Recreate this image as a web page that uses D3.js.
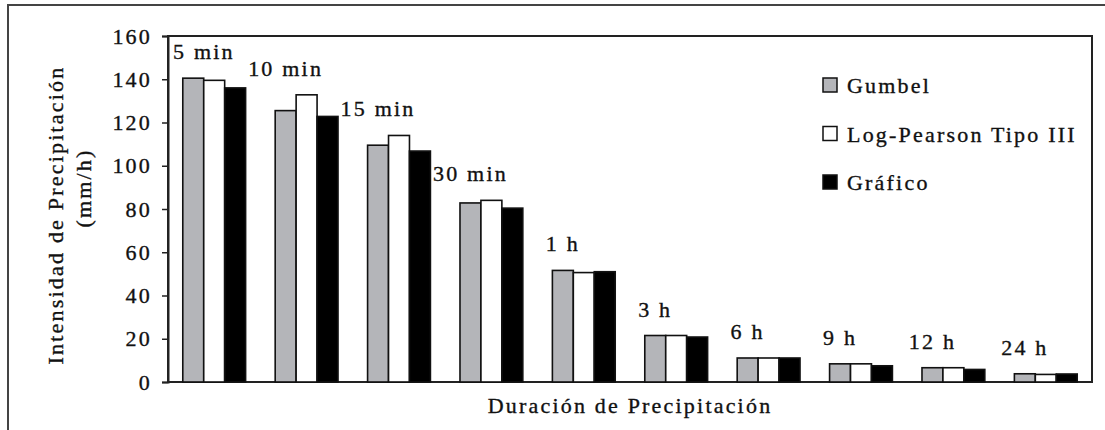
<!DOCTYPE html>
<html>
<head>
<meta charset="utf-8">
<script src="https://cdn.jsdelivr.net/npm/d3@7"></script>
<style>
  html, body { margin: 0; padding: 0; background: #fff; }
  svg { display: block; }
</style>
</head>
<body>
<svg id="chart" width="1105" height="430"></svg>
<script>
// ---- data ----
const categories = ["5 min", "10 min", "15 min", "30 min", "1 h", "3 h", "6 h", "9 h", "12 h", "24 h"];
const seriesNames = ["Gumbel", "Log-Pearson Tipo III", "Gráfico"];
const gumbel      = [140.5, 125.5, 109.5, 82.8, 51.6, 21.5, 11.1, 8.4, 6.6, 3.8];
const logPearson  = [139.5, 132.8, 114.0, 84.0, 50.6, 21.5, 11.1, 8.4, 6.6, 3.5];
const grafico     = [136.0, 122.8, 106.8, 80.4, 51.0, 20.8, 11.1, 7.5, 5.8, 3.7];
const yTicks = [0, 20, 40, 60, 80, 100, 120, 140, 160];
const yTitle = ["Intensidad de Precipitación", "(mm/h)"];
const xTitle = "Duración de Precipitación";

// ---- layout ----
const W = 1105, H = 430;
const FONT = "Liberation Serif";
const FS = 22, LS = 2.2;
const plot = { left: 168, top: 36, right: 1092, bottom: 382 };
const colors = { "Gumbel": "#b4b5b9", "Log-Pearson Tipo III": "#ffffff", "Gráfico": "#000000" };
const seriesValues = { "Gumbel": gumbel, "Log-Pearson Tipo III": logPearson, "Gráfico": grafico };

const svg = d3.select("#chart");

function styleText(sel) {
  return sel.attr("font-family", FONT).attr("font-size", FS)
    .attr("letter-spacing", LS).attr("fill", "#111")
    .attr("stroke", "#111").attr("stroke-width", 0.35);
}

// outer frame (extends past the right and bottom edges)
svg.append("rect")
  .attr("x", 8).attr("y", 5).attr("width", W + 20).attr("height", H + 20)
  .attr("fill", "#fff").attr("stroke", "#444").attr("stroke-width", 2);

const x0 = d3.scaleBand().domain(categories).range([plot.left, plot.right])
  .paddingInner(0.32).paddingOuter(0.16);
const x1 = d3.scaleBand().domain(seriesNames).range([0, x0.bandwidth()]);
const y = d3.scaleLinear().domain([0, 160]).range([plot.bottom, plot.top]);

// plot frame
svg.append("rect")
  .attr("x", plot.left).attr("y", plot.top)
  .attr("width", plot.right - plot.left).attr("height", plot.bottom - plot.top)
  .attr("fill", "none").attr("stroke", "#222").attr("stroke-width", 2);

// y axis
const yAxis = d3.axisLeft(y).tickValues(yTicks).tickSize(6).tickPadding(10).tickFormat(d3.format("d"));
const ga = svg.append("g").attr("transform", `translate(${plot.left},0)`).call(yAxis);
ga.attr("font-family", FONT).attr("font-size", FS);
ga.select(".domain").attr("stroke", "#222").attr("stroke-width", 2);
ga.selectAll(".tick line").attr("stroke", "#222").attr("stroke-width", 1.5);
styleText(ga.selectAll(".tick text"));

// bars
const rows = categories.map((c, i) => ({ cat: c, vals: seriesNames.map(s => ({ s, v: seriesValues[s][i] })) }));
const groups = svg.append("g").selectAll("g").data(rows).join("g")
  .attr("transform", d => `translate(${x0(d.cat)},0)`);
groups.selectAll("rect").data(d => d.vals).join("rect")
  .attr("x", d => x1(d.s))
  .attr("y", d => y(d.v))
  .attr("width", x1.bandwidth())
  .attr("height", d => y(0) - y(d.v))
  .attr("fill", d => colors[d.s])
  .attr("stroke", "#111").attr("stroke-width", 1.6);

// category labels above groups, centred over the first bar
const gap = 19;
styleText(svg.append("g").selectAll("text").data(rows).join("text"))
  .attr("text-anchor", "middle")
  .text(d => d.cat)
  .attr("y", d => y(d3.max(d.vals, v => v.v)) - gap)
  .attr("x", function(d) {
    const cx = x0(d.cat) + x1(seriesNames[0]) + x1.bandwidth() / 2;
    const half = this.getComputedTextLength() / 2;
    return Math.max(cx, plot.left + 5 + half);
  });

// y title
const ty = (plot.top + plot.bottom) / 2;
styleText(svg.append("text")).attr("text-anchor", "middle")
  .attr("transform", `translate(63,${ty + 6}) rotate(-90)`).text(yTitle[0]);
styleText(svg.append("text")).attr("text-anchor", "middle")
  .attr("transform", `translate(91,${ty - 21}) rotate(-90)`).text(yTitle[1]);

// x title
styleText(svg.append("text")).attr("text-anchor", "middle")
  .attr("x", (plot.left + plot.right) / 2).attr("y", 413).text(xTitle);

// legend
const legend = svg.append("g").attr("transform", "translate(823,78)");
const li = legend.selectAll("g").data(seriesNames).join("g")
  .attr("transform", (d, i) => `translate(0,${i * 48.5})`);
li.append("rect").attr("width", 14).attr("height", 14)
  .attr("fill", d => colors[d]).attr("stroke", "#111").attr("stroke-width", 1.5);
styleText(li.append("text")).attr("x", 24).attr("y", 15).text(d => d);
</script>
</body>
</html>
